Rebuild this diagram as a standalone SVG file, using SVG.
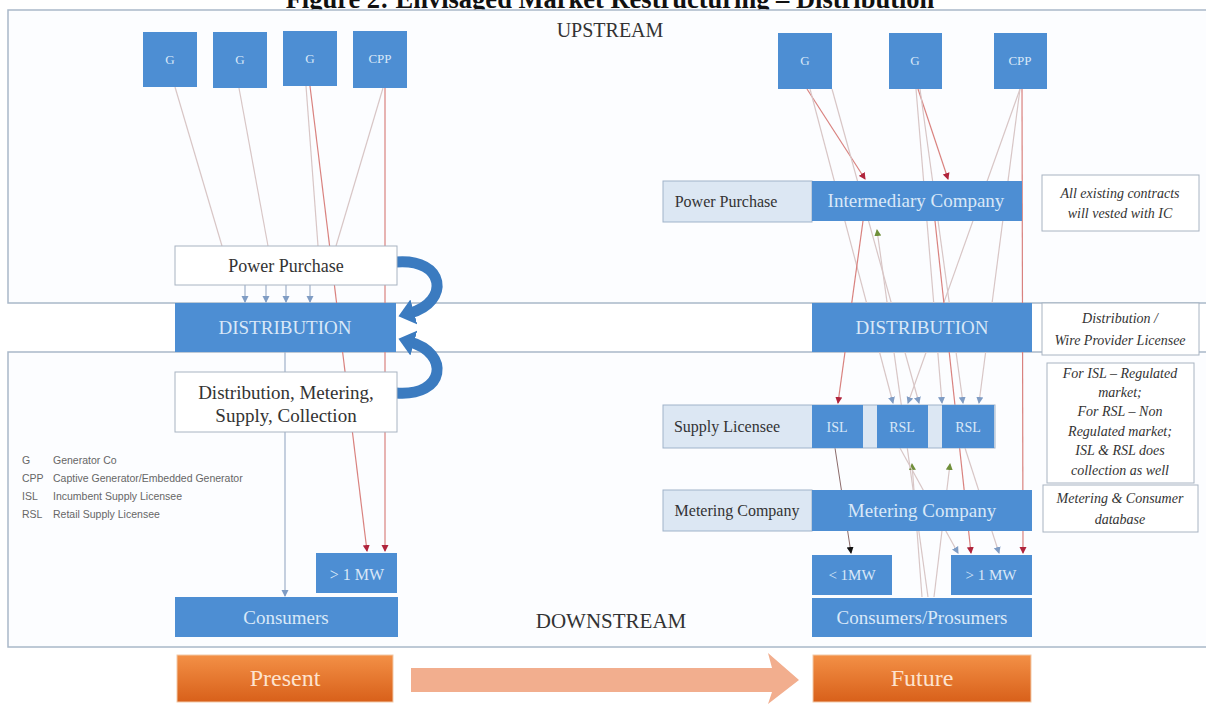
<svg xmlns="http://www.w3.org/2000/svg" width="1206" height="706" viewBox="0 0 1206 706">
<defs>
<style>
.blue{fill:#4d8ed3;}
.lt{fill:#dce7f3;stroke:#9fb3ca;stroke-width:1;}
.wb{fill:#ffffff;stroke:#a8b4c2;stroke-width:1;}
.bt{font-family:"Liberation Serif",serif;fill:#d9e8f8;text-anchor:middle;}
.dt{font-family:"Liberation Serif",serif;fill:#333;text-anchor:middle;}
.nt{font-family:"Liberation Serif",serif;font-style:italic;fill:#333;text-anchor:middle;font-size:14px;}
.lg{font-family:"Liberation Sans",sans-serif;fill:#666;font-size:10.5px;}
.g{stroke:#d8c6c6;stroke-width:1.2;fill:none;}
.r{stroke:#d9827f;stroke-width:1.2;fill:none;}
.k{stroke:#8a6a6a;stroke-width:1;fill:none;}
.ga{stroke:#9fb1c9;stroke-width:1.2;fill:none;}
</style>
<linearGradient id="og" x1="0" y1="0" x2="0" y2="1">
<stop offset="0" stop-color="#f39046"/>
<stop offset="1" stop-color="#d8601a"/>
</linearGradient>
<marker id="ar" markerUnits="userSpaceOnUse" markerWidth="8" markerHeight="8" refX="6" refY="4" orient="auto"><path d="M0,0.5 L7,4 L0,7.5 Z" fill="#b0243c"/></marker>
<marker id="ab" markerUnits="userSpaceOnUse" markerWidth="8" markerHeight="8" refX="6" refY="4" orient="auto"><path d="M0,0.5 L7,4 L0,7.5 Z" fill="#7f9cc4"/></marker>
<marker id="ak" markerUnits="userSpaceOnUse" markerWidth="8" markerHeight="8" refX="6" refY="4" orient="auto"><path d="M0,0.5 L7,4 L0,7.5 Z" fill="#111"/></marker>
<marker id="agr" markerUnits="userSpaceOnUse" markerWidth="8" markerHeight="8" refX="6" refY="4" orient="auto"><path d="M0,0.5 L7,4 L0,7.5 Z" fill="#6f8f3a"/></marker>
<marker id="ac" markerUnits="userSpaceOnUse" markerWidth="26" markerHeight="26" refX="4" refY="13" orient="auto"><path d="M0,0 L16,13 L0,26 Z" fill="#3b7bc0"/></marker>
</defs>

<rect x="0" y="0" width="1206" height="706" fill="#ffffff"/>
<text x="610" y="8" font-family="Liberation Serif,serif" font-weight="bold" font-size="26.5" text-anchor="middle" fill="#111">Figure 2: Envisaged Market Restructuring – Distribution</text>

<g id="frame">
<rect x="8" y="10" width="1210" height="293" fill="#fcfdff" stroke="#a9b8c9" stroke-width="1.5"/>
<rect x="8" y="352" width="1210" height="295" fill="#fcfdff" stroke="#a9b8c9" stroke-width="1.5"/>
<text x="610" y="37" class="dt" font-size="20" fill="#333">UPSTREAM</text>
<text x="611" y="628" class="dt" font-size="21" fill="#333">DOWNSTREAM</text>
</g>

<g id="connectors">
<line class="g" x1="175" y1="87" x2="222" y2="246"/>
<line class="g" x1="239" y1="88" x2="268" y2="246"/>
<line class="g" x1="306" y1="86" x2="318" y2="246"/>
<line class="g" x1="383" y1="88" x2="336" y2="246"/>
<line class="r" x1="310" y1="86" x2="367" y2="551" marker-end="url(#ar)"/>
<line class="r" x1="385" y1="88" x2="385" y2="551" marker-end="url(#ar)"/>
<line class="ga" x1="245" y1="285" x2="245" y2="302" marker-end="url(#ab)"/>
<line class="ga" x1="266" y1="285" x2="266" y2="302" marker-end="url(#ab)"/>
<line class="ga" x1="286" y1="285" x2="286" y2="302" marker-end="url(#ab)"/>
<line class="ga" x1="310" y1="285" x2="310" y2="302" marker-end="url(#ab)"/>
<line class="ga" x1="285" y1="352" x2="285" y2="596" marker-end="url(#ab)"/>
<path d="M396,262 C446,258 450,302 410,313" stroke="#3b7bc0" stroke-width="11" fill="none" marker-end="url(#ac)"/>
<path d="M396,393 C446,397 450,353 410,342" stroke="#3b7bc0" stroke-width="11" fill="none" marker-end="url(#ac)"/>
<line class="r" x1="807" y1="89" x2="865" y2="179" marker-end="url(#ar)"/>
<line class="r" x1="918" y1="89" x2="948" y2="179" marker-end="url(#ar)"/>
<line class="g" x1="810" y1="89" x2="893" y2="403" marker-end="url(#ab)"/>
<line class="g" x1="916" y1="89" x2="942" y2="403" marker-end="url(#ab)"/>
<line class="g" x1="920" y1="89" x2="963" y2="403" marker-end="url(#ab)"/>
<line class="g" x1="1020" y1="89" x2="908" y2="403" marker-end="url(#ab)"/>
<line class="g" x1="1020" y1="89" x2="979" y2="403" marker-end="url(#ab)"/>
<line class="g" x1="832" y1="89" x2="919" y2="403" marker-end="url(#ab)"/>
<line class="r" x1="1022" y1="89" x2="1023" y2="553" marker-end="url(#ar)"/>
<line class="r" x1="863" y1="221" x2="838" y2="403" marker-end="url(#ar)"/>
<line class="r" x1="935" y1="221" x2="971" y2="553" marker-end="url(#ar)"/>
<line class="g" x1="928" y1="597" x2="877" y2="230" marker-end="url(#agr)"/>
<line class="g" x1="922" y1="597" x2="912" y2="464" marker-end="url(#agr)"/>
<line class="g" x1="934" y1="597" x2="950" y2="464" marker-end="url(#agr)"/>
<line class="k" x1="835" y1="448" x2="851" y2="553" marker-end="url(#ak)"/>
<line class="g" x1="900" y1="448" x2="958" y2="553" marker-end="url(#ab)"/>
<line class="g" x1="965" y1="448" x2="999" y2="553" marker-end="url(#ab)"/>
</g>

<g id="g1"><rect class="blue" x="143" y="32" width="54" height="55"/><text class="bt" x="170" y="64" font-size="13">G</text></g>
<g id="g2"><rect class="blue" x="213" y="32" width="54" height="56"/><text class="bt" x="240" y="64" font-size="13">G</text></g>
<g id="g3"><rect class="blue" x="283" y="31" width="54" height="55"/><text class="bt" x="310" y="63" font-size="13">G</text></g>
<g id="cpp1"><rect class="blue" x="353" y="31" width="54" height="57"/><text class="bt" x="380" y="63" font-size="13">CPP</text></g>

<g id="pp-left"><rect class="wb" x="175" y="246" width="222" height="39"/><text class="dt" x="286" y="272" font-size="18">Power Purchase</text></g>
<g id="dist-left"><rect class="blue" x="175" y="303" width="221" height="49"/><text class="bt" x="285" y="334" font-size="19">DISTRIBUTION</text></g>
<g id="dmsc"><rect class="wb" x="175" y="372" width="222" height="60"/><text class="dt" x="286" y="399" font-size="19">Distribution, Metering,</text><text class="dt" x="286" y="422" font-size="19">Supply, Collection</text></g>

<g id="legend">
<text class="lg" x="22" y="464">G</text><text class="lg" x="53" y="464">Generator Co</text>
<text class="lg" x="22" y="482">CPP</text><text class="lg" x="53" y="482">Captive Generator/Embedded Generator</text>
<text class="lg" x="22" y="500">ISL</text><text class="lg" x="53" y="500">Incumbent Supply Licensee</text>
<text class="lg" x="22" y="518">RSL</text><text class="lg" x="53" y="518">Retail Supply Licensee</text>
</g>

<g id="mw-left"><rect class="blue" x="316" y="553" width="81" height="40"/><text class="bt" x="357" y="580" font-size="16">&gt; 1 MW</text></g>
<g id="consumers"><rect class="blue" x="175" y="597" width="223" height="40"/><text class="bt" x="286" y="624" font-size="19">Consumers</text></g>

<g id="g4"><rect class="blue" x="778" y="33" width="54" height="56"/><text class="bt" x="805" y="65" font-size="13">G</text></g>
<g id="g5"><rect class="blue" x="889" y="33" width="53" height="56"/><text class="bt" x="915" y="65" font-size="13">G</text></g>
<g id="cpp2"><rect class="blue" x="994" y="33" width="53" height="56"/><text class="bt" x="1020" y="65" font-size="13">CPP</text></g>

<g id="pp-right"><rect class="lt" x="663" y="181" width="149" height="41"/><text class="dt" x="726" y="207" font-size="16">Power Purchase</text></g>
<g id="ic"><rect class="blue" x="812" y="181" width="210" height="40"/><text class="bt" x="916" y="207" font-size="19">Intermediary Company</text></g>
<g id="dist-right"><rect class="blue" x="812" y="303" width="220" height="49"/><text class="bt" x="922" y="334" font-size="19">DISTRIBUTION</text></g>

<g id="supply"><rect class="lt" x="663" y="405" width="332" height="43"/><text class="dt" x="727" y="432" font-size="16">Supply Licensee</text></g>
<g id="isl"><rect class="blue" x="812" y="405" width="51" height="43"/><text class="bt" x="837" y="432" font-size="14">ISL</text></g>
<g id="rsl1"><rect class="blue" x="877" y="405" width="51" height="43"/><text class="bt" x="902" y="432" font-size="14">RSL</text></g>
<g id="rsl2"><rect class="blue" x="942" y="405" width="52" height="43"/><text class="bt" x="968" y="432" font-size="14">RSL</text></g>

<g id="meter-label"><rect class="lt" x="663" y="490" width="149" height="41"/><text class="dt" x="737" y="516" font-size="16">Metering Company</text></g>
<g id="meter"><rect class="blue" x="812" y="490" width="220" height="41"/><text class="bt" x="922" y="517" font-size="19">Metering Company</text></g>

<g id="lt1mw"><rect class="blue" x="812" y="555" width="80" height="40"/><text class="bt" x="852" y="580" font-size="15">&lt; 1MW</text></g>
<g id="gt1mw"><rect class="blue" x="951" y="555" width="81" height="40"/><text class="bt" x="991" y="580" font-size="15">&gt; 1 MW</text></g>
<g id="prosumers"><rect class="blue" x="812" y="598" width="220" height="39"/><text class="bt" x="922" y="624" font-size="19">Consumers/Prosumers</text></g>

<g id="note1"><rect class="wb" x="1042" y="175" width="157" height="56"/><text class="nt" x="1120" y="198">All existing contracts</text><text class="nt" x="1120" y="218">will vested with IC</text></g>
<g id="note2"><rect class="wb" x="1042" y="303" width="157" height="52"/><text class="nt" x="1120" y="323">Distribution /</text><text class="nt" x="1120" y="345">Wire Provider Licensee</text></g>
<g id="note3"><rect class="wb" x="1047" y="363" width="147" height="120"/>
<text class="nt" x="1120" y="378">For ISL – Regulated</text>
<text class="nt" x="1120" y="397">market;</text>
<text class="nt" x="1120" y="416">For RSL – Non</text>
<text class="nt" x="1120" y="436">Regulated market;</text>
<text class="nt" x="1120" y="455">ISL &amp; RSL does</text>
<text class="nt" x="1120" y="475">collection as well</text></g>
<g id="note4"><rect class="wb" x="1043" y="485" width="155" height="47"/><text class="nt" x="1120" y="503">Metering &amp; Consumer</text><text class="nt" x="1120" y="524">database</text></g>

<g id="timeline">
<rect x="177" y="655" width="216" height="47" fill="url(#og)" stroke="#f2c9a8" stroke-width="1"/>
<text x="285" y="686" font-family="Liberation Serif,serif" font-size="24" fill="#fde3cf" text-anchor="middle">Present</text>
<path d="M411,668 L772,668 L768,653 L799,680 L768,704 L772,692 L411,692 Z" fill="#f2ae8e"/>
<rect x="813" y="655" width="218" height="47" fill="url(#og)" stroke="#f2c9a8" stroke-width="1"/>
<text x="922" y="686" font-family="Liberation Serif,serif" font-size="24" fill="#fde3cf" text-anchor="middle">Future</text>
</g>
</svg>
